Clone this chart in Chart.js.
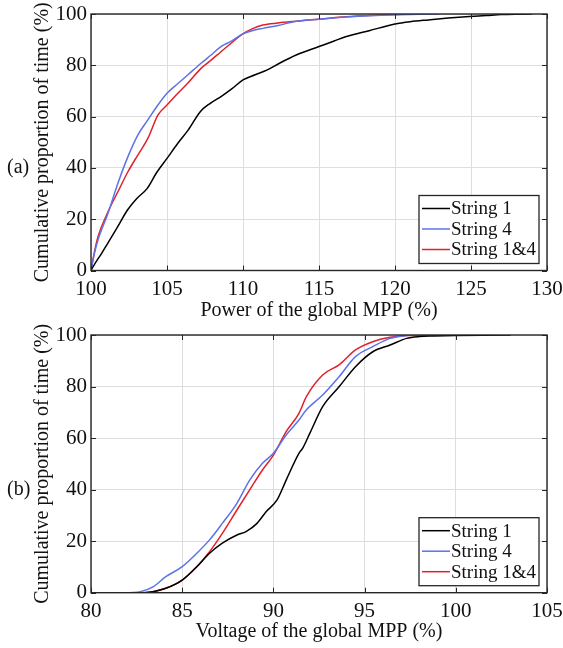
<!DOCTYPE html>
<html lang="en">
<head>
    <meta charset="UTF-8">
    <title>Cumulative proportion of time</title>
    <style>
        body {
            margin: 0;
            background: #fff;
            font-family: "Liberation Serif", "Times New Roman", serif;
        }

        .page {
            position: relative;
            width: 563px;
            height: 648px;
        }

        canvas {
            position: absolute;
            left: 0;
        }

        #chartA { top: 0; }
        #chartB { top: 315px; }

        .tag {
            position: absolute;
            left: 7px;
            font-size: 20px;
            line-height: 20px;
            color: #111;
        }
    </style>
</head>
<body>
    <div class="page">
        <canvas id="chartA" width="563" height="335"></canvas>
        <canvas id="chartB" width="563" height="333"></canvas>
        <div class="tag" style="top:156px">(a)</div>
        <div class="tag" style="top:478px">(b)</div>
    </div>
    <script src="https://cdn.jsdelivr.net/npm/chart.js"></script>
    <script>
        // legend labels
        const seriesNames = ["String 1", "String 4", "String 1&4"];
        const seriesColors = ["#000000", "#5b73e8", "#e3202a"];

        // (a) power of the global MPP (%)
        const powerTicks = [100, 105, 110, 115, 120, 125, 130];
        const powerS1X = [100, 100.25, 100.7, 101.1, 101.7, 102.4, 103.0, 103.7, 104.3, 105.0, 105.7, 106.4, 107.2, 107.8, 108.6, 109.3, 110.0, 110.8, 111.6, 112.4, 113.5, 115.0, 116.0, 116.8, 118.3, 120.0, 121.0, 122.2, 123.5, 124.9, 126.0, 127.0, 128.0, 129.0];
        const powerS1Y = [0, 2.6, 6.7, 10.6, 16.5, 23.6, 28.0, 32.0, 38.0, 43.7, 49.5, 54.8, 62.0, 65.0, 68.0, 71.0, 74.3, 76.3, 78.2, 80.8, 84.0, 87.3, 89.5, 91.2, 93.5, 96.1, 97.0, 97.7, 98.4, 99.0, 99.4, 99.8, 99.95, 100];
        const powerS4X = [100, 100.2, 100.46, 101.12, 101.77, 102.43, 103.08, 103.74, 104.4, 105.0, 105.7, 106.36, 107.24, 107.9, 108.55, 109.2, 110.0, 110.6, 111.3, 112.3, 113.5, 115.0, 116.5, 117.9, 119.5, 121.0, 122.9];
        const powerS4Y = [0, 6, 11.9, 22.3, 34.0, 44.4, 52.8, 58.7, 64.5, 69.1, 72.8, 76.2, 80.8, 84.0, 87.3, 89.3, 92.3, 93.5, 94.4, 95.5, 97.2, 98.0, 98.7, 99.2, 99.6, 99.85, 100];
        const powerS14X = [100, 100.2, 100.46, 101.12, 101.77, 102.43, 103.08, 103.74, 104.4, 105.0, 105.7, 106.36, 107.24, 107.9, 108.55, 109.2, 110.0, 110.6, 111.3, 112.3, 113.5, 115.0, 116.5, 117.9, 119.5, 121.0];
        const powerS14Y = [0, 6.5, 13.2, 22.9, 30.7, 38.5, 45.0, 51.5, 60.6, 64.5, 69.0, 73.0, 78.8, 82.0, 85.3, 88.5, 92.3, 94.2, 95.7, 96.5, 97.2, 98.0, 98.8, 99.3, 99.7, 100];

        // (b) voltage of the global MPP (%)
        const voltTicks = [80, 85, 90, 95, 100, 105];
        const voltS1X = [82.9, 83.4, 84.1, 85.0, 85.8, 86.5, 87.2, 88.0, 88.5, 89.1, 89.6, 90.2, 90.7, 91.4, 91.6, 92.0, 92.7, 93.6, 94.5, 95.45, 96.4, 97.3, 98.0, 98.8, 100.0, 101.5, 103.0];
        const voltS1Y = [0, 0.4, 1.7, 4.9, 10.1, 15.3, 19.2, 22.4, 23.7, 26.9, 31.4, 36.0, 43.7, 54.1, 56.0, 61.9, 72.2, 79.9, 87.7, 93.5, 96.1, 98.7, 99.4, 99.6, 99.8, 99.95, 100];
        const voltS4X = [82.1, 82.7, 83.4, 84.1, 85.0, 85.8, 86.5, 87.2, 88.0, 88.7, 89.4, 90.0, 90.7, 91.4, 91.8, 92.7, 93.6, 94.5, 95.45, 96.4, 97.3, 98.0];
        const voltS4Y = [0, 0.4, 2.3, 6.2, 10.1, 15.3, 20.5, 26.9, 34.7, 43.7, 50.2, 54.1, 61.2, 67.0, 70.9, 76.7, 83.8, 91.6, 95.5, 98.7, 99.8, 100];
        const voltS14X = [82.7, 83.4, 84.1, 85.0, 85.8, 86.5, 87.2, 88.0, 88.7, 89.4, 90.0, 90.7, 91.4, 91.8, 92.7, 93.6, 94.5, 95.45, 96.4, 97.3, 98.5, 99.8];
        const voltS14Y = [0, 0.4, 1.7, 4.9, 10.1, 15.9, 23.0, 32.1, 39.9, 47.6, 53.4, 62.5, 69.6, 76.0, 84.5, 88.4, 94.2, 97.4, 99.1, 99.8, 99.95, 100];

        const yTicks = [0, 20, 40, 60, 80, 100];

        const serif = "'Liberation Serif', 'Times New Roman', serif";
        const textColor = "#111111";

        function points(xs, ys) {
            return xs.map((x, i) => ({ x: x, y: ys[i] }));
        }

        // box round the axes plus the small inward tick marks (matlab style)
        const framePlugin = {
            id: "frame",
            afterDatasetsDraw(chart) {
                const { ctx, chartArea: a, scales } = chart;
                const len = 5;
                ctx.save();
                ctx.strokeStyle = "#262626";
                ctx.lineWidth = 1;
                ctx.beginPath();
                scales.x.ticks.forEach(t => {
                    const px = Math.round(scales.x.getPixelForValue(t.value)) + 0.5;
                    ctx.moveTo(px, a.bottom);
                    ctx.lineTo(px, a.bottom - len);
                    ctx.moveTo(px, a.top);
                    ctx.lineTo(px, a.top + len);
                });
                scales.y.ticks.forEach(t => {
                    const py = Math.round(scales.y.getPixelForValue(t.value)) + 0.5;
                    ctx.moveTo(a.left, py);
                    ctx.lineTo(a.left + len, py);
                    ctx.moveTo(a.right, py);
                    ctx.lineTo(a.right - len, py);
                });
                ctx.stroke();
                ctx.lineWidth = 1.4;
                ctx.strokeRect(a.left, a.top, a.right - a.left, a.bottom - a.top);
                ctx.restore();
            }
        };

        // legend box in the lower right corner of the axes
        const boxLegend = {
            id: "boxLegend",
            afterDraw(chart) {
                const { ctx, chartArea: a } = chart;
                const sets = chart.data.datasets;
                const w = 120, h = 68, rowH = 20.5;
                const x0 = a.right - 8 - w;
                const y0 = a.bottom - 7 - h;
                ctx.save();
                ctx.fillStyle = "#fff";
                ctx.fillRect(x0, y0, w, h);
                ctx.strokeStyle = "#262626";
                ctx.lineWidth = 1.3;
                ctx.strokeRect(x0, y0, w, h);
                ctx.font = "19px " + serif;
                ctx.textBaseline = "middle";
                ctx.textAlign = "left";
                sets.forEach((ds, i) => {
                    const cy = y0 + 13 + i * rowH;
                    ctx.strokeStyle = ds.borderColor;
                    ctx.lineWidth = 1.5;
                    ctx.beginPath();
                    ctx.moveTo(x0 + 3, cy);
                    ctx.lineTo(x0 + 31, cy);
                    ctx.stroke();
                    ctx.fillStyle = textColor;
                    ctx.fillText(ds.label, x0 + 32, cy + 1);
                });
                ctx.restore();
            }
        };

        function makeChart(id, cfg) {
            const datasets = cfg.series.map((s, i) => ({
                label: seriesNames[i],
                data: points(s[0], s[1]),
                borderColor: seriesColors[i],
                borderWidth: 1.5,
                pointRadius: 0,
                cubicInterpolationMode: "monotone",
                fill: false
            }));
            return new Chart(document.getElementById(id), {
                type: "line",
                data: { datasets: datasets },
                options: {
                    responsive: false,
                    animation: false,
                    layout: { padding: { top: cfg.padTop, right: 16, left: 0, bottom: 0 } },
                    plugins: { legend: { display: false }, tooltip: { enabled: false } },
                    scales: {
                        x: {
                            type: "linear",
                            min: cfg.xTicks[0],
                            max: cfg.xTicks[cfg.xTicks.length - 1],
                            afterBuildTicks: s => { s.ticks = cfg.xTicks.map(v => ({ value: v })); },
                            afterFit: s => {
                                s.height = cfg.xHeight;
                                s.paddingLeft = 0;
                                s.paddingRight = 0;
                            },
                            grid: { color: "#dedede", drawTicks: false },
                            border: { display: false },
                            ticks: { font: { family: serif, size: 21 }, color: textColor, padding: 6, maxRotation: 0 },
                            title: {
                                display: true,
                                text: cfg.xTitle,
                                font: { family: serif, size: 20 },
                                color: textColor,
                                padding: { top: 0, bottom: cfg.titlePad }
                            }
                        },
                        y: {
                            min: 0,
                            max: 100,
                            afterBuildTicks: s => { s.ticks = yTicks.map(v => ({ value: v })); },
                            afterFit: s => {
                                s.width = 91;
                                s.paddingTop = 0;
                                s.paddingBottom = 0;
                            },
                            grid: { color: "#dedede", drawTicks: false },
                            border: { display: false },
                            ticks: { font: { family: serif, size: 21 }, color: textColor, padding: 4 },
                            title: {
                                display: true,
                                text: "Cumulative proportion of time (%)",
                                font: { family: serif, size: 20 },
                                color: textColor,
                                padding: { top: 31, bottom: 0 }
                            }
                        }
                    }
                },
                plugins: [framePlugin, boxLegend]
            });
        }

        makeChart("chartA", {
            series: [[powerS1X, powerS1Y], [powerS4X, powerS4Y], [powerS14X, powerS14Y]],
            xTicks: powerTicks,
            xTitle: "Power of the global MPP (%)",
            padTop: 14,
            xHeight: 64.5,
            titlePad: 12
        });

        makeChart("chartB", {
            series: [[voltS1X, voltS1Y], [voltS4X, voltS4Y], [voltS14X, voltS14Y]],
            xTicks: voltTicks,
            xTitle: "Voltage of the global MPP (%)",
            padTop: 20,
            xHeight: 55.3,
            titlePad: 4
        });
    </script>
</body>
</html>
